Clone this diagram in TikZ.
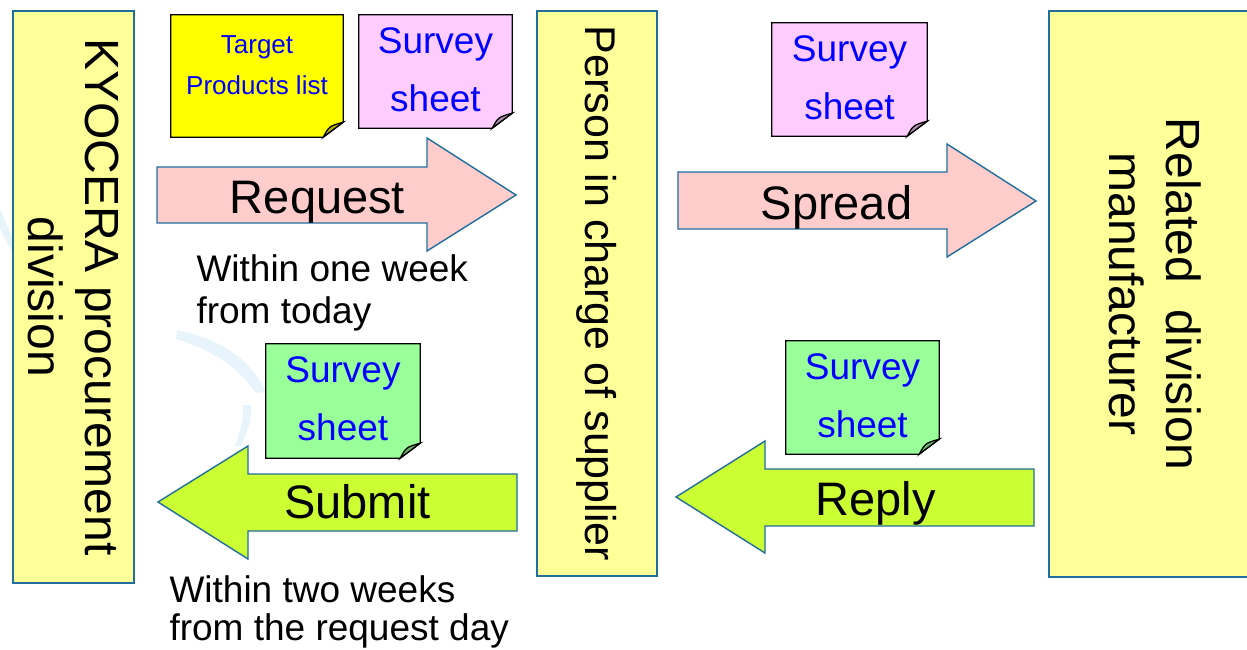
\documentclass[tikz,border=0pt]{standalone}
\usepackage{fontspec}
\setmainfont{Liberation Sans}
\usepackage{tikz}

\definecolor{edgeblue}{RGB}{31,110,158}
\definecolor{boxyellow}{RGB}{255,255,153}
\definecolor{reqpink}{RGB}{255,204,204}
\definecolor{replylime}{RGB}{204,255,51}
\definecolor{noteyellow}{RGB}{255,255,0}
\definecolor{notepink}{RGB}{255,204,255}
\definecolor{notegreen}{RGB}{153,255,153}
\definecolor{noteblue}{RGB}{0,0,255}
\definecolor{watermark}{RGB}{232,244,252}

% sticky note with curled corner: name, centre, width, height, colour
\newcommand{\sheetnote}[5]{%
  \node[notebox, minimum width=#3, minimum height=#4] (#1) at #2 {};
  \draw[notedraw, fill=#5] (#1.north west) -- (#1.north east) -- ([yshift=15pt]#1.south east)
    -- ([xshift=-20pt]#1.south east) -- (#1.south west) -- cycle;
  \draw[notedraw, fill=#5!70!black] ([xshift=-20pt]#1.south east)
    .. controls ([xshift=-14pt,yshift=11pt]#1.south east) .. ([yshift=15pt]#1.south east) -- cycle;
}

\begin{document}
\begin{tikzpicture}
	[x=1pt, y=-1pt,
	 party/.style={draw=edgeblue, line width=1.4pt, fill=boxyellow, rotate=-90,
	   align=center, font=\fontsize{48}{57}\selectfont},
	 notebox/.style={inner sep=0pt},
	 notedraw/.style={draw=black, line width=1.3pt},
	 notetext/.style={text=noteblue, align=center, font=\fontsize{37}{58}\selectfont},
	 flowarrow/.style={draw=edgeblue, line width=1.4pt},
	 arrowtext/.style={anchor=base, font=\fontsize{47}{56}\selectfont},
	 timetext/.style={anchor=base west, align=left, font=\fontsize{37}{42}\selectfont}]
   \useasboundingbox (0,0) rectangle (1247,650);

   % faint background marks
   \fill[watermark] (-2,205) .. controls (6,222) .. (14,242) -- (14,255) .. controls (3,236) .. (-2,222) -- cycle;
   \fill[watermark] (177,330) .. controls (225,340) and (252,362) .. (266,392)
     -- (256,393) .. controls (240,370) and (218,352) .. (176,339) -- cycle;
   \fill[watermark] (251,405) .. controls (251,422) .. (241,446) -- (235,446) .. controls (243,422) .. (243,405) -- cycle;

   % the three parties
   \node[party, minimum width=572pt, minimum height=121pt] (box_kyo) at (73.5,297) {KYOCERA procurement\\division};
   \node[party, minimum width=565pt, minimum height=120pt, font=\fontsize{43}{52}\selectfont] (box_sup) at (597,293.5) {Person in charge of supplier};
   \node[party, minimum width=566pt, minimum height=213pt] (box_mfr) at (1155.5,294) {Related~~division\\manufacturer};

   % sheets
   \sheetnote{note_list}{(257,76)}{172pt}{122pt}{noteyellow}
   \sheetnote{note_req}{(435.5,71.5)}{153pt}{113pt}{notepink}
   \sheetnote{note_spr}{(849.5,79.5)}{155pt}{113pt}{notepink}
   \sheetnote{note_sub}{(343,401)}{154pt}{114pt}{notegreen}
   \sheetnote{note_rep}{(862.5,397.5)}{153pt}{113pt}{notegreen}
   \node[notetext, font=\fontsize{26}{41}\selectfont] (t_list) at (257,65) {Target\\Products list};
   \node[notetext] (t_req) at (435.5,69.5) {Survey\\sheet};
   \node[notetext] (t_spr) at (849.5,77.5) {Survey\\sheet};
   \node[notetext] (t_sub) at (343,399) {Survey\\sheet};
   \node[notetext] (t_rep) at (862.5,395.5) {Survey\\sheet};

   % flow arrows
   \draw[flowarrow, fill=reqpink] (157,167) -- (427,167) -- (427,138) -- (516,195)
     -- (427,251) -- (427,223) -- (157,223) -- cycle;
   \draw[flowarrow, fill=reqpink] (678,172) -- (947,172) -- (947,144) -- (1036,201)
     -- (947,257) -- (947,229) -- (678,229) -- cycle;
   \draw[flowarrow, fill=replylime] (1034,469) -- (765,469) -- (765,441) -- (676,497)
     -- (765,553) -- (765,526) -- (1034,526) -- cycle;
   \draw[flowarrow, fill=replylime] (517,474) -- (248,474) -- (248,446) -- (158,502)
     -- (248,559) -- (248,531) -- (517,531) -- cycle;
   \node[arrowtext] (l_req) at (317.5,213) {Request};
   \node[arrowtext] (l_spr) at (836.5,219) {Spread};
   \node[arrowtext] (l_rep) at (875.5,515) {Reply};
   \node[arrowtext] (l_sub) at (357.5,518) {Submit};

   % deadlines (base = last line)
   \node[timetext] (d_req) at (193,323) {Within one week\\from today};
   \node[timetext, font=\fontsize{37}{38}\selectfont] (d_sub) at (166,640) {Within two weeks\\from the request day};

\end{tikzpicture}
\end{document}
